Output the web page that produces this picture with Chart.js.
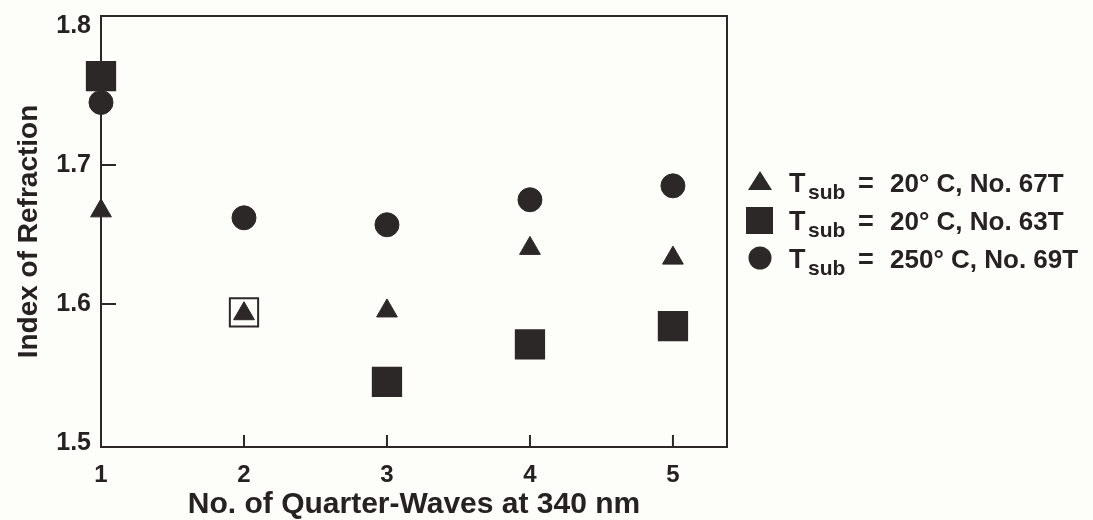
<!DOCTYPE html>
<html>
<head>
<meta charset="utf-8">
<script src="https://cdn.jsdelivr.net/npm/chart.js@4.4.0/dist/chart.umd.min.js"></script>
<style>
  html, body { margin: 0; padding: 0; background: #fdfdf9; }
  #wrap { width: 1093px; height: 520px; }
</style>
</head>
<body>
<div id="wrap"><canvas id="chart" width="1093" height="520"></canvas></div>
<script>
// No. of quarter-waves at 340 nm
const waves = [1, 2, 3, 4, 5];

// index of refraction per sample
const no67T = [1.667, 1.593, 1.595, 1.640, 1.633];
const no63T = [1.764, 1.594, 1.544, 1.571, 1.584];
const no69T = [1.745, 1.662, 1.657, 1.675, 1.685];

// the 63T point at 2 quarter-waves is drawn open
const filled63T = [true, false, true, true, true];

const yTicks = [1.5, 1.6, 1.7, 1.8];
const xTicks = [1, 2, 3, 4, 5];

const legendNames = ['20° C, No. 67T', '20° C, No. 63T', '250° C, No. 69T'];

const ink = '#2d2828';
const textColor = '#262222';
const fontFamily = '"Liberation Sans", Arial, Helvetica, sans-serif';

function toPoints(ys) {
    return waves.map((x, i) => ({ x: x, y: ys[i] }));
}

// frame around the plot and the inward tick marks
const framePlugin = {
    id: 'frame',
    beforeDatasetsDraw(chart) {
        const { ctx, chartArea, scales } = chart;
        ctx.save();
        ctx.strokeStyle = ink;
        ctx.lineWidth = 2;
        ctx.strokeRect(chartArea.left, chartArea.top,
            chartArea.right - chartArea.left, chartArea.bottom - chartArea.top);

        ctx.beginPath();
        yTicks.slice(1, 3).forEach(v => {
            const y = scales.y.getPixelForValue(v);
            ctx.moveTo(chartArea.left, y);
            ctx.lineTo(chartArea.left + 15, y);
        });
        xTicks.slice(1).forEach(v => {
            const x = scales.x.getPixelForValue(v);
            ctx.moveTo(x, chartArea.bottom);
            ctx.lineTo(x, chartArea.bottom - 12);
        });
        ctx.stroke();
        ctx.restore();
    }
};

// legend with subscripted T_sub labels
const legendPlugin = {
    id: 'subLegend',
    afterDraw(chart) {
        const ctx = chart.ctx;
        const rows = [182, 220, 258];
        ctx.save();
        ctx.fillStyle = ink;

        // triangle
        ctx.beginPath();
        ctx.moveTo(760, rows[0] - 11);
        ctx.lineTo(772, rows[0] + 8);
        ctx.lineTo(748, rows[0] + 8);
        ctx.closePath();
        ctx.fill();
        // square
        ctx.fillRect(746, rows[1] - 13, 27, 27);
        // circle
        ctx.beginPath();
        ctx.arc(760, rows[2], 11.5, 0, Math.PI * 2);
        ctx.fill();

        ctx.fillStyle = textColor;
        ctx.textBaseline = 'alphabetic';
        rows.forEach((y, i) => {
            ctx.font = 'bold 27px ' + fontFamily;
            ctx.fillText('T', 789, y + 10);
            ctx.font = 'bold 21px ' + fontFamily;
            ctx.fillText('sub', 808, y + 17);
            ctx.font = 'bold 27px ' + fontFamily;
            ctx.fillText('=', 858, y + 10);
            ctx.font = 'bold 26px ' + fontFamily;
            ctx.fillText(legendNames[i], 890, y + 10);
        });
        ctx.restore();
    }
};

function noPad(scale) {
    scale.paddingTop = 0;
    scale.paddingBottom = 0;
    scale.paddingLeft = 0;
    scale.paddingRight = 0;
}

const data = {
    datasets: [
        {
            label: 'No. 69T',
            data: toPoints(no69T),
            pointStyle: 'circle',
            pointRadius: 12,
            borderWidth: 1,
            borderColor: ink,
            backgroundColor: ink,
            clip: false,
            order: 0
        },
        {
            label: 'No. 67T',
            data: toPoints(no67T),
            pointStyle: 'triangle',
            pointRadius: 12,
            borderWidth: 1,
            borderColor: ink,
            backgroundColor: ink,
            clip: false,
            order: 1
        },
        {
            label: 'No. 63T',
            data: toPoints(no63T),
            pointStyle: 'rect',
            pointRadius: 20,
            borderWidth: 2,
            borderColor: ink,
            backgroundColor: filled63T.map(f => f ? ink : 'rgba(0,0,0,0)'),
            clip: false,
            order: 2
        }
    ]
};

const config = {
    type: 'scatter',
    data: data,
    options: {
        responsive: false,
        animation: false,
        layout: {
            autoPadding: false,
            padding: { left: 0, right: 366, top: 16, bottom: 0 }
        },
        plugins: {
            legend: { display: false },
            tooltip: { enabled: false }
        },
        scales: {
            x: {
                type: 'linear',
                min: 1,
                max: 5.378,
                grid: { display: false, drawTicks: false },
                border: { display: false },
                afterBuildTicks: scale => {
                    scale.ticks = xTicks.map(v => ({ value: v }));
                },
                afterFit: scale => { scale.height = 73; noPad(scale); },
                ticks: {
                    padding: 14,
                    color: textColor,
                    font: { family: fontFamily, size: 24, weight: 'bold' }
                },
                title: {
                    display: true,
                    text: 'No. of Quarter-Waves at 340 nm',
                    color: textColor,
                    padding: { top: 0, bottom: 0 },
                    font: { family: fontFamily, size: 30, weight: 'bold', lineHeight: 1 }
                }
            },
            y: {
                type: 'linear',
                min: 1.4971,
                max: 1.8072,
                grid: { display: false, drawTicks: false },
                border: { display: false },
                afterBuildTicks: scale => {
                    scale.ticks = yTicks.map(v => ({ value: v }));
                },
                afterFit: scale => { scale.width = 101; noPad(scale); },
                ticks: {
                    padding: 10,
                    color: textColor,
                    font: { family: fontFamily, size: 25, weight: 'bold' },
                    callback: v => v.toFixed(1)
                },
                title: {
                    display: true,
                    text: 'Index of Refraction',
                    color: textColor,
                    padding: { top: 12, bottom: 0 },
                    font: { family: fontFamily, size: 28, weight: 'bold', lineHeight: 1.2 }
                }
            }
        }
    },
    plugins: [framePlugin, legendPlugin]
};

const refractionChart = new Chart(document.getElementById('chart'), config);
</script>
</body>
</html>
